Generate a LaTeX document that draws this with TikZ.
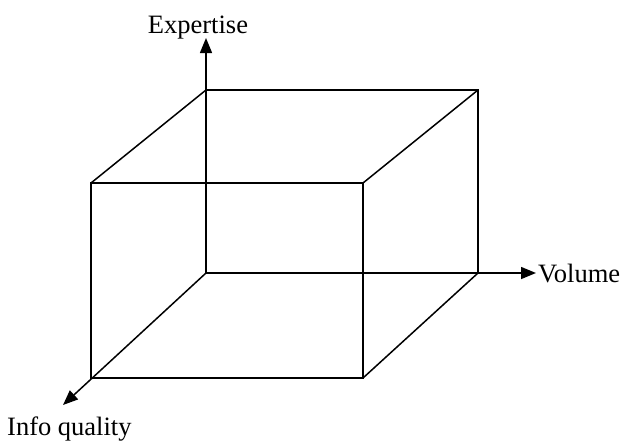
\documentclass[tikz,border=0pt]{standalone}
\usepackage{fontspec}
\setmainfont{Liberation Serif}
\usetikzlibrary{arrows.meta,positioning}

\begin{document}
\begin{tikzpicture}[x=1pt, y=-1pt,
  edge/.style={line width=1.5pt, line cap=round},
  axis/.style={line width=1.5pt, -{Triangle[length=15pt, width=12pt]}},
  lab/.style={font=\fontsize{26.5}{30}\selectfont, inner sep=0pt}
]
\useasboundingbox (0,0) rectangle (622,440);
% back face
\coordinate (btl) at (206,90);
\coordinate (btr) at (478,90);
\coordinate (bbl) at (206,273);
\coordinate (bbr) at (478,273);
% front face
\coordinate (ftl) at (91,183);
\coordinate (ftr) at (363,183);
\coordinate (fbl) at (91,378);
\coordinate (fbr) at (363,378);
% axis ends
\coordinate (yend) at (206,38);
\coordinate (xend) at (536,273);
\coordinate (zend) at (63,405);
\draw[edge] (btl) -- (btr) -- (bbr);
\draw[edge] (btl) -- (bbl);
\draw[edge] (ftl) -- (ftr) -- (fbr) -- (fbl) -- cycle;
\draw[edge] (btl) -- (ftl); \draw[edge] (btr) -- (ftr); \draw[edge] (bbr) -- (fbr);
\draw[axis] (bbl) -- (yend);
\draw[axis] (bbl) -- (xend);
\draw[axis] (bbl) -- (zend);
\node[lab, anchor=base] (expertise) at (198,33) {Expertise};
\node[lab, anchor=base west] (volume) at (538,282) {Volume};
\node[lab, anchor=base west] (info) at (7,435) {Info quality};
\end{tikzpicture}
\end{document}
